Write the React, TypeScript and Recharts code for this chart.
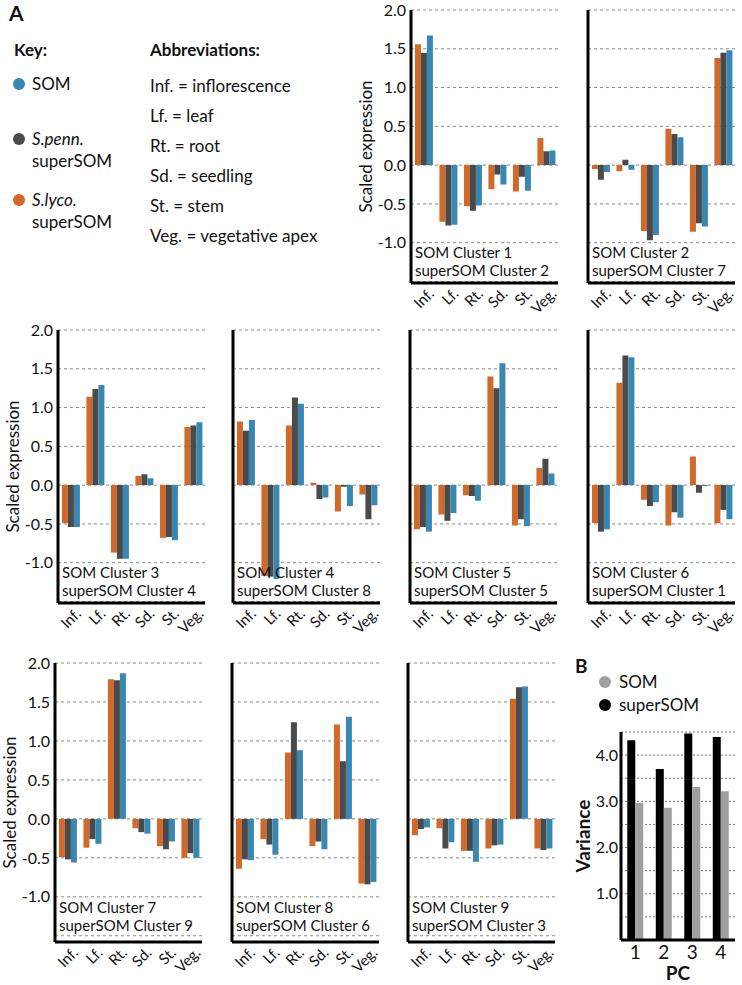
import { BarChart, Bar, XAxis, YAxis, CartesianGrid } from "recharts";

const ORANGE = "#d0692a";
const DARK = "#4a4a4a";
const BLUE = "#3888b2";
const FONT = "Lato, 'Open Sans', sans-serif";

const TISSUES = ["Inf.", "Lf.", "Rt.", "Sd.", "St.", "Veg."];
const Y_TICKS = [-1.5, -1, -0.5, 0, 0.5, 1, 1.5, 2];

// values per tissue: S.lyco superSOM, S.penn superSOM, SOM
const lyco1 = [1.56, -0.73, -0.53, -0.31, -0.34, 0.35];
const penn1 = [1.45, -0.78, -0.59, -0.12, -0.15, 0.18];
const som1 = [1.67, -0.77, -0.52, -0.25, -0.33, 0.19];

const lyco2 = [-0.05, -0.08, -0.85, 0.47, -0.86, 1.38];
const penn2 = [-0.19, 0.07, -0.97, 0.4, -0.75, 1.45];
const som2 = [-0.09, -0.06, -0.9, 0.36, -0.79, 1.48];

const lyco3 = [-0.49, 1.14, -0.87, 0.12, -0.68, 0.75];
const penn3 = [-0.54, 1.24, -0.95, 0.14, -0.67, 0.77];
const som3 = [-0.54, 1.29, -0.95, 0.09, -0.71, 0.81];

const lyco4 = [0.82, -1.17, 0.77, 0.03, -0.34, -0.12];
const penn4 = [0.7, -1.18, 1.13, -0.18, -0.02, -0.44];
const som4 = [0.84, -1.21, 1.05, -0.16, -0.27, -0.26];

const lyco5 = [-0.57, -0.38, -0.13, 1.4, -0.52, 0.22];
const penn5 = [-0.54, -0.46, -0.14, 1.25, -0.44, 0.34];
const som5 = [-0.6, -0.36, -0.2, 1.57, -0.53, 0.15];

const lyco6 = [-0.49, 1.32, -0.19, -0.52, 0.37, -0.49];
const penn6 = [-0.6, 1.67, -0.27, -0.35, -0.1, -0.32];
const som6 = [-0.57, 1.65, -0.22, -0.42, -0.01, -0.44];

const lyco7 = [-0.49, -0.37, 1.79, -0.12, -0.35, -0.5];
const penn7 = [-0.52, -0.26, 1.78, -0.17, -0.39, -0.44];
const som7 = [-0.56, -0.32, 1.87, -0.19, -0.29, -0.5];

const lyco8 = [-0.64, -0.26, 0.85, -0.35, 1.21, -0.83];
const penn8 = [-0.52, -0.33, 1.24, -0.29, 0.74, -0.84];
const som8 = [-0.53, -0.46, 0.88, -0.39, 1.31, -0.81];

const lyco9 = [-0.21, -0.12, -0.41, -0.38, 1.54, -0.38];
const penn9 = [-0.13, -0.38, -0.41, -0.34, 1.69, -0.4];
const som9 = [-0.11, -0.3, -0.55, -0.33, 1.7, -0.38];

// panel B
const PCS = ["1", "2", "3", "4"];
const varSuper = [4.32, 3.7, 4.47, 4.39];
const varSom = [2.97, 2.86, 3.31, 3.22];
const VAR_TICKS = [0.5, 1, 1.5, 2, 2.5, 3, 3.5, 4, 4.5];

const ABBREVIATIONS = [
  "Inf. = inflorescence",
  "Lf. = leaf",
  "Rt. = root",
  "Sd. = seedling",
  "St. = stem",
  "Veg. = vegetative apex",
];

// layout of the nine cluster panels
const ROWS = [
  { top: 10, bottom: 283, min: -1.52 },
  { top: 330, bottom: 603, min: -1.52 },
  { top: 663, bottom: 942, min: -1.58 },
];

const PANELS = [
  { lyco: lyco1, penn: penn1, som: som1, somC: 1, supC: 2, row: 0, x: 411, yLab: true },
  { lyco: lyco2, penn: penn2, som: som2, somC: 2, supC: 7, row: 0, x: 588, yLab: false },
  { lyco: lyco3, penn: penn3, som: som3, somC: 3, supC: 4, row: 1, x: 58, yLab: true },
  { lyco: lyco4, penn: penn4, som: som4, somC: 4, supC: 8, row: 1, x: 233, yLab: false },
  { lyco: lyco5, penn: penn5, som: som5, somC: 5, supC: 5, row: 1, x: 410, yLab: false },
  { lyco: lyco6, penn: penn6, som: som6, somC: 6, supC: 1, row: 1, x: 588, yLab: false },
  { lyco: lyco7, penn: penn7, som: som7, somC: 7, supC: 9, row: 2, x: 55, yLab: true },
  { lyco: lyco8, penn: penn8, som: som8, somC: 8, supC: 6, row: 2, x: 232, yLab: false },
  { lyco: lyco9, penn: penn9, som: som9, somC: 9, supC: 3, row: 2, x: 408, yLab: false },
];

const PLOT_W = 147;
const Y_AXIS_W = 60;
const X_AXIS_H = 45;

const TissueTick = (props: any) => {
  const { x, y, payload } = props;
  return (
    <g transform={`translate(${x + 4},${y + 2})`}>
      <text transform="rotate(-45)" textAnchor="end" dy="0.72em" fontSize={15} fill="#111" fontFamily={FONT}>
        {payload.value}
      </text>
    </g>
  );
};

function ClusterPanel({ p }: { p: any }) {
  const row = ROWS[p.row];
  const plotH = row.bottom - row.top;
  const data = TISSUES.map((t, i) => ({ tissue: t, lyco: p.lyco[i], penn: p.penn[i], som: p.som[i] }));
  const pxPerUnit = plotH / (2 - row.min);
  const yAt = (v: number) => row.top + (2 - v) * pxPerUnit;
  const line2 = yAt(-1.5) - 5;
  return (
    <>
      <div style={{ position: "absolute", left: p.x - Y_AXIS_W, top: row.top - 10 }}>
        <BarChart
          width={Y_AXIS_W + PLOT_W + 6}
          height={10 + plotH + X_AXIS_H}
          data={data}
          margin={{ top: 10, right: 6, left: 0, bottom: 0 }}
          barGap={0}
          barCategoryGap="16%"
        >
          <CartesianGrid vertical={false} stroke="#8a8a8a" strokeDasharray="3 3" />
          <XAxis
            dataKey="tissue"
            interval={0}
            height={X_AXIS_H}
            tickLine={false}
            tickSize={0}
            axisLine={{ stroke: "#000", strokeWidth: 3 }}
            tick={<TissueTick />}
          />
          <YAxis
            width={Y_AXIS_W}
            domain={[row.min, 2]}
            ticks={Y_TICKS}
            allowDataOverflow
            tickLine={false}
            tickSize={2}
            tickMargin={3}
            axisLine={{ stroke: "#000", strokeWidth: 3 }}
            tick={{ fill: "#111", fontSize: 16, fontFamily: FONT }}
            tickFormatter={(v: number) => (p.yLab && v !== -1.5 ? v.toFixed(1) : "")}
            label={
              p.yLab
                ? {
                    value: "Scaled expression",
                    angle: -90,
                    position: "insideLeft",
                    offset: 15,
                    style: { textAnchor: "middle", fontSize: 17, fill: "#111", fontFamily: FONT },
                  }
                : undefined
            }
          />
          <Bar dataKey="lyco" fill={ORANGE} isAnimationActive={false} />
          <Bar dataKey="penn" fill={DARK} isAnimationActive={false} />
          <Bar dataKey="som" fill={BLUE} isAnimationActive={false} />
        </BarChart>
      </div>
      <svg style={{ position: "absolute", left: 0, top: 0, overflow: "visible" }} width={1} height={1}>
        <text x={p.x + 4} y={line2 - 18} fontSize={15} fill="#111" fontFamily={FONT}>
          SOM Cluster {p.somC}
        </text>
        <text x={p.x + 4} y={line2} fontSize={15} fill="#111" fontFamily={FONT}>
          superSOM Cluster {p.supC}
        </text>
      </svg>
    </>
  );
}

function VariancePanel() {
  const data = PCS.map((pc, i) => ({ pc, sup: varSuper[i], som: varSom[i] }));
  const axisX = 621;
  const top = 732;
  const bottom = 940;
  return (
    <div style={{ position: "absolute", left: axisX - Y_AXIS_W, top: top - 10 }}>
      <BarChart
        width={Y_AXIS_W + 114 + 4}
        height={10 + (bottom - top) + 44}
        data={data}
        margin={{ top: 10, right: 4, left: 0, bottom: 0 }}
        barGap={0}
        barCategoryGap="22%"
      >
        <CartesianGrid vertical={false} stroke="#777" strokeDasharray="2 2" />
        <XAxis
          dataKey="pc"
          height={44}
          tickLine={false}
          tickSize={0}
          tickMargin={6}
          axisLine={{ stroke: "#000", strokeWidth: 3 }}
          tick={{ fill: "#111", fontSize: 19, fontFamily: FONT }}
          label={{ value: "PC", position: "insideBottom", offset: 4, style: { fontSize: 19, fontWeight: 700, fill: "#111", fontFamily: FONT } }}
        />
        <YAxis
          width={Y_AXIS_W}
          domain={[0, 4.5]}
          ticks={VAR_TICKS}
          tickLine={false}
          tickSize={1}
          tickMargin={2}
          axisLine={{ stroke: "#000", strokeWidth: 3 }}
          tick={{ fill: "#111", fontSize: 16, fontFamily: FONT }}
          tickFormatter={(v: number) => (Number.isInteger(v) ? v.toFixed(1) : "")}
          label={{
            value: "Variance",
            angle: -90,
            position: "insideLeft",
            offset: 22,
            style: { textAnchor: "middle", fontSize: 19, fontWeight: 700, fill: "#111", fontFamily: FONT },
          }}
        />
        <Bar dataKey="sup" fill="#000" isAnimationActive={false} />
        <Bar dataKey="som" fill="#a0a0a0" isAnimationActive={false} />
      </BarChart>
    </div>
  );
}

function Annotations() {
  return (
    <svg style={{ position: "absolute", left: 0, top: 0 }} width={742} height={985} fontFamily={FONT} fill="#111">
      <text x={9} y={21} fontSize={21} fontWeight={700}>A</text>
      <text x={14} y={56} fontSize={17} fontWeight={700}>Key:</text>
      <circle cx={19} cy={84} r={6} fill={BLUE} />
      <text x={32} y={90} fontSize={17}>SOM</text>
      <circle cx={19} cy={139} r={6} fill={DARK} />
      <text x={32} y={145} fontSize={17} fontStyle="italic">S.penn.</text>
      <text x={32} y={167} fontSize={17}>superSOM</text>
      <circle cx={19} cy={200} r={6} fill={ORANGE} />
      <text x={32} y={206} fontSize={17} fontStyle="italic">S.lyco.</text>
      <text x={32} y={228} fontSize={17}>superSOM</text>
      <text x={150} y={56} fontSize={17} fontWeight={700}>Abbreviations:</text>
      {ABBREVIATIONS.map((a, i) => (
        <text key={a} x={150} y={92 + i * 30} fontSize={17}>
          {a}
        </text>
      ))}
      <text x={575} y={673} fontSize={19} fontWeight={700}>B</text>
      <circle cx={605} cy={682} r={6} fill="#a0a0a0" />
      <text x={619} y={688} fontSize={17}>SOM</text>
      <circle cx={605} cy={705} r={6} fill="#000" />
      <text x={619} y={711} fontSize={17}>superSOM</text>
    </svg>
  );
}

export default function App() {
  return (
    <div style={{ position: "absolute", left: 0, top: 0, width: 742, height: 985, background: "#fff", overflow: "hidden" }}>
      <Annotations />
      {PANELS.map((p) => (
        <ClusterPanel key={p.somC} p={p} />
      ))}
      <VariancePanel />
    </div>
  );
}
